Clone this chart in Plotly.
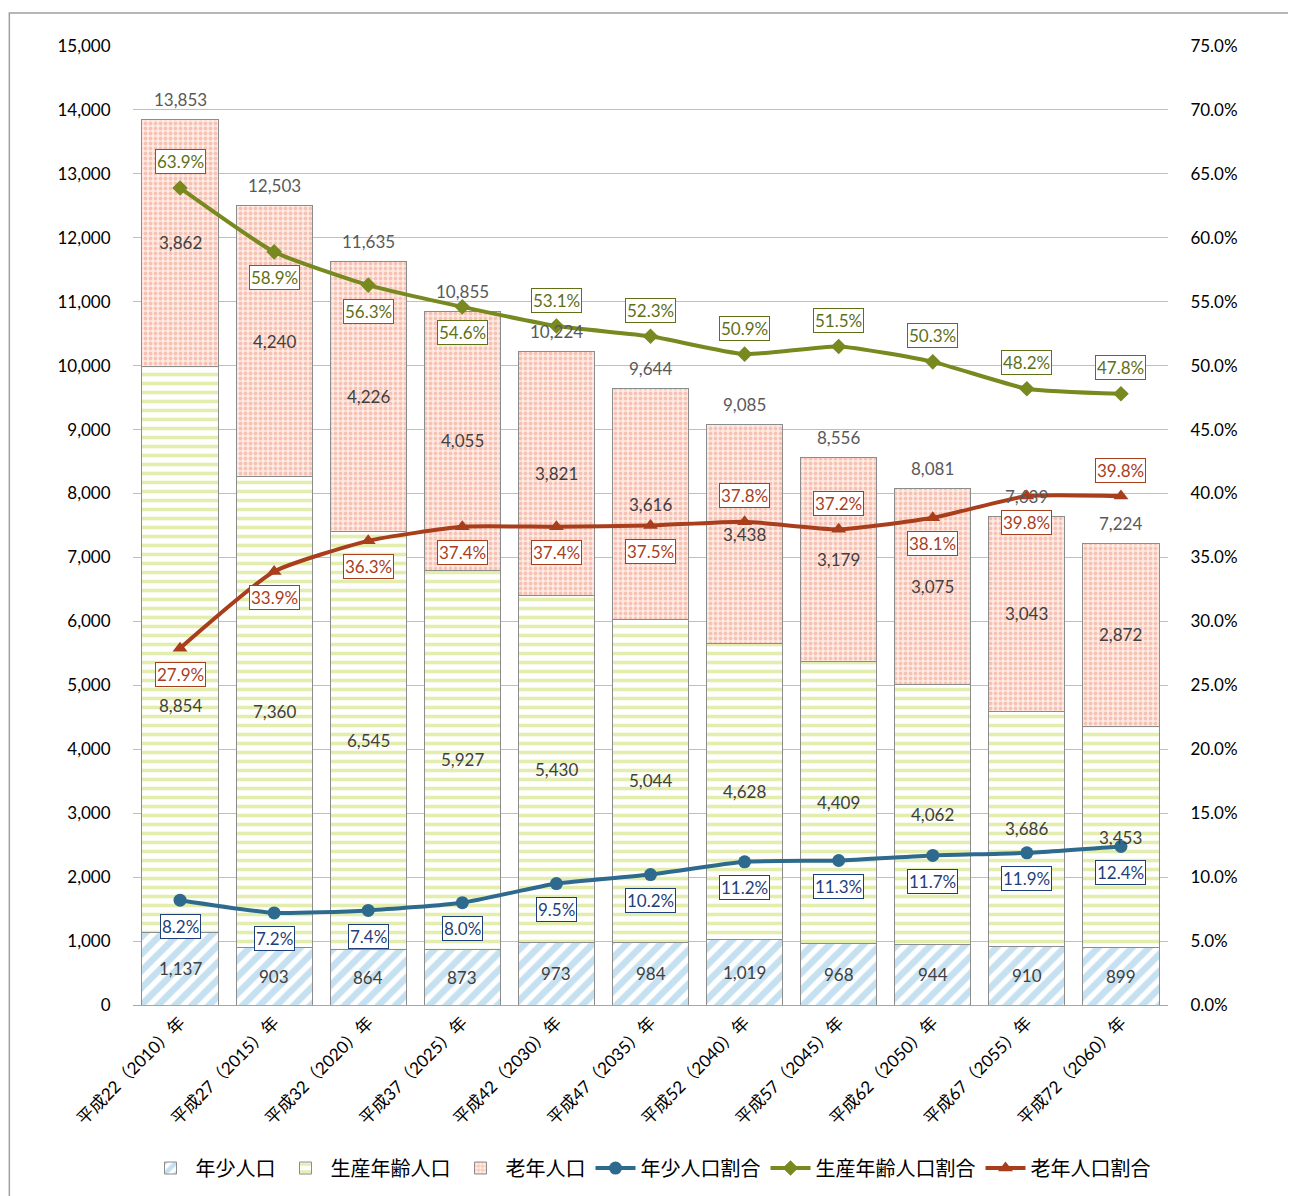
import plotly.graph_objects as go

# データ
years = ["平成22（2010）年", "平成27（2015）年", "平成32（2020）年", "平成37（2025）年",
         "平成42（2030）年", "平成47（2035）年", "平成52（2040）年", "平成57（2045）年",
         "平成62（2050）年", "平成67（2055）年", "平成72（2060）年"]
young = [1137, 903, 864, 873, 973, 984, 1019, 968, 944, 910, 899]
working = [8854, 7360, 6545, 5927, 5430, 5044, 4628, 4409, 4062, 3686, 3453]
elderly = [3862, 4240, 4226, 4055, 3821, 3616, 3438, 3179, 3075, 3043, 2872]
totals = [13853, 12503, 11635, 10855, 10224, 9644, 9085, 8556, 8081, 7639, 7224]
young_ratio = [8.2, 7.2, 7.4, 8.0, 9.5, 10.2, 11.2, 11.3, 11.7, 11.9, 12.4]
working_ratio = [63.9, 58.9, 56.3, 54.6, 53.1, 52.3, 50.9, 51.5, 50.3, 48.2, 47.8]
elderly_ratio = [27.9, 33.9, 36.3, 37.4, 37.4, 37.5, 37.8, 37.2, 38.1, 39.8, 39.8]

FONT = "Lato, 'Noto Sans CJK JP', sans-serif"
BLUE = "#2E6A8E"
GREEN = "#77891F"
RED = "#A83E1C"
EDGE = "#8C8C8C"

fig = go.Figure()

# 棒グラフ（積み上げ）
fig.add_trace(go.Bar(
    name="年少人口", x=years, y=young,
    marker=dict(color="white", line=dict(color=EDGE, width=1),
                pattern=dict(shape="/", fgcolor="#8CC2E2", bgcolor="white", size=12, solidity=0.55)),
))
fig.add_trace(go.Bar(
    name="生産年齢人口", x=years, y=working,
    marker=dict(color="white", line=dict(color=EDGE, width=1),
                pattern=dict(shape="-", fgcolor="#C8DE5E", bgcolor="white", size=9, solidity=0.4)),
))
fig.add_trace(go.Bar(
    name="老年人口", x=years, y=elderly,
    marker=dict(color="#FDEBE5", line=dict(color=EDGE, width=1),
                pattern=dict(shape=".", fgcolor="#F49A82", bgcolor="#FDEBE5", size=5, solidity=0.45)),
))

# 折れ線（割合）
fig.add_trace(go.Scatter(
    name="年少人口割合", x=years, y=young_ratio, yaxis="y2", mode="lines+markers",
    line=dict(color=BLUE, width=4, shape="spline", smoothing=0.5),
    marker=dict(symbol="circle", size=13, color=BLUE),
))
fig.add_trace(go.Scatter(
    name="生産年齢人口割合", x=years, y=working_ratio, yaxis="y2", mode="lines+markers",
    line=dict(color=GREEN, width=4, shape="spline", smoothing=0.5),
    marker=dict(symbol="diamond", size=12, color=GREEN),
))
fig.add_trace(go.Scatter(
    name="老年人口割合", x=years, y=elderly_ratio, yaxis="y2", mode="lines+markers",
    line=dict(color=RED, width=4, shape="spline", smoothing=0.5),
    marker=dict(symbol="triangle-up", size=13, color=RED),
))

annotations = []

# 棒の内訳ラベル
seg_font = dict(family=FONT, size=17, color="#404040")
for i, x in enumerate(years):
    base = 0
    for j, vals in enumerate([young, working, elderly]):
        v = vals[i]
        shift = -56 if (i == 0 and j == 1) else 0
        annotations.append(dict(x=x, y=base + v / 2, text=f"{v:,}", showarrow=False,
                                font=seg_font, yshift=shift))
        base += v
    annotations.append(dict(x=x, y=totals[i], text=f"{totals[i]:,}", showarrow=False,
                            font=dict(family=FONT, size=17, color="#595959"), yshift=20))

# 割合ラベル（枠付き）
working_side = [1, -1, -1, -1, 1, 1, 1, 1, 1, 1, 1]
elderly_side = [-1, -1, -1, -1, -1, -1, 1, 1, -1, -1, 1]
young_side = [-1] * 11
for vals, sides, col in [(young_ratio, young_side, "#1F3F7A"),
                         (working_ratio, working_side, "#5F7016"),
                         (elderly_ratio, elderly_side, RED)]:
    for x, v, s in zip(years, vals, sides):
        annotations.append(dict(x=x, y=v, yref="y2", text=f"{v:.1f}%", showarrow=False,
                                font=dict(family=FONT, size=17, color=col),
                                bgcolor="white", bordercolor=col, borderwidth=1, borderpad=1,
                                yshift=26 * s))

fig.update_layout(
    width=1296, height=1196,
    margin=dict(l=125, r=136, t=38, b=199, autoexpand=False),
    paper_bgcolor="white", plot_bgcolor="white",
    barmode="stack", bargap=0.19,
    font=dict(family=FONT, size=16, color="black"),
    annotations=annotations,
    showlegend=True,
    legend=dict(orientation="h", x=0.5, xanchor="center", y=-0.17, yanchor="middle",
                traceorder="normal", font=dict(size=20, color="black"),
                itemwidth=40),
    xaxis=dict(tickangle=-45, tickfont=dict(size=17), showline=True, linecolor="#A6A6A6",
               ticks="", showgrid=False, automargin=False, range=[-0.5, 10.5]),
    yaxis=dict(range=[0, 15000], dtick=1000, tickformat=",d", showgrid=True,
               gridcolor="#BFBFBF", gridwidth=1, zeroline=False, ticks="outside",
               ticklen=18, tickcolor="rgba(0,0,0,0)", tickfont=dict(size=17), automargin=False),
    yaxis2=dict(range=[0, 75], dtick=5, tickformat=".1f", ticksuffix="%", overlaying="y",
                side="right", showgrid=False, zeroline=False, ticks="outside",
                ticklen=18, tickcolor="rgba(0,0,0,0)", tickfont=dict(size=17), automargin=False),
    shapes=[dict(type="rect", xref="paper", yref="paper", x0=-0.1195, x1=1.2, y0=-0.25, y1=1.0344,
                 line=dict(color="#A0A0A0", width=1.5), fillcolor="rgba(0,0,0,0)", layer="below")],
)

fig.write_html("out.html")
